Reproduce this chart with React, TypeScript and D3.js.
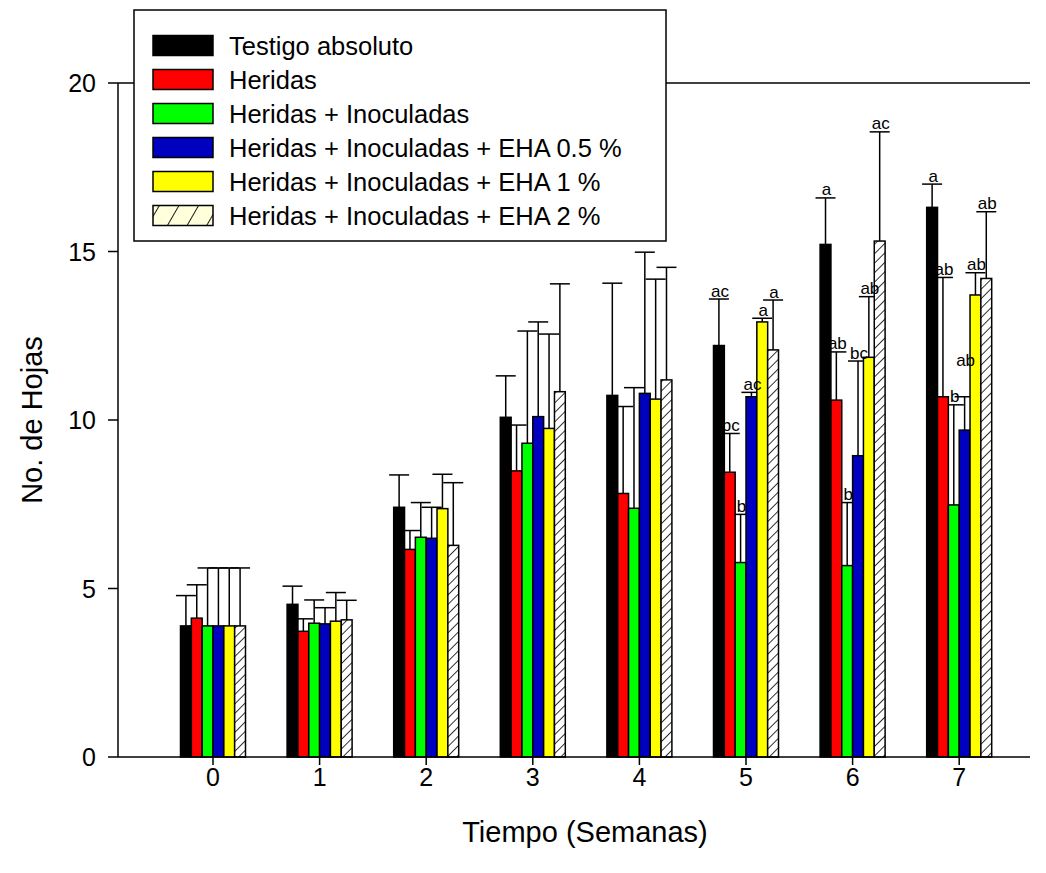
import React from 'react'
import { scaleLinear, scaleBand } from 'd3'

// weeks on the x axis
const weeks = ['0', '1', '2', '3', '4', '5', '6', '7']
const yTicks = [0, 5, 10, 15, 20]

const seriesNames = [
  'Testigo absoluto',
  'Heridas',
  'Heridas + Inoculadas',
  'Heridas + Inoculadas + EHA 0.5 %',
  'Heridas + Inoculadas + EHA 1 %',
  'Heridas + Inoculadas + EHA 2 %',
]
const seriesColors = ['#000000', '#ff0000', '#00ff00', '#0000c0', '#ffff00', 'url(#hatch)']

// mean number of leaves
const testigo = [3.89, 4.53, 7.41, 10.08, 10.73, 12.21, 15.21, 16.31]
const heridas = [4.12, 3.73, 6.16, 8.49, 7.82, 8.45, 10.59, 10.69]
const herInoc = [3.89, 3.97, 6.52, 9.31, 7.38, 5.77, 5.68, 7.48]
const eha05 = [3.89, 3.95, 6.49, 10.1, 10.79, 10.69, 8.94, 9.7]
const eha1 = [3.89, 4.03, 7.37, 9.75, 10.62, 12.91, 11.86, 13.71]
const eha2 = [3.89, 4.07, 6.28, 10.84, 11.19, 12.08, 15.31, 14.2]

// standard errors (upper bars only)
const testigoErr = [0.9, 0.54, 0.96, 1.23, 3.33, 1.38, 1.38, 0.69]
const heridasErr = [0.99, 0.37, 0.56, 1.36, 2.58, 1.15, 1.43, 3.54]
const herInocErr = [1.72, 0.69, 1.03, 3.33, 3.58, 1.43, 1.87, 2.97]
const eha05Err = [1.72, 0.48, 0.92, 2.81, 4.19, 0.13, 2.81, 0.99]
const eha1Err = [1.72, 0.85, 1.02, 2.8, 3.56, 0.11, 1.8, 0.66]
const eha2Err = [1.72, 0.58, 1.86, 3.2, 3.34, 1.48, 3.24, 1.98]

const means = [testigo, heridas, herInoc, eha05, eha1, eha2]
const errs = [testigoErr, heridasErr, herInocErr, eha05Err, eha1Err, eha2Err]

// significance letters: [week index, series index, text, extra raise in units]
const letters: [number, number, string, number][] = [
  [5, 0, 'ac', 0], [5, 1, 'bc', 0], [5, 2, 'b', 0], [5, 3, 'ac', 0], [5, 4, 'a', 0], [5, 5, 'a', 0],
  [6, 0, 'a', 0], [6, 1, 'ab', 0], [6, 2, 'b', 0], [6, 3, 'bc', 0], [6, 4, 'ab', 0], [6, 5, 'ac', 0],
  [7, 0, 'a', 0], [7, 1, 'ab', 0], [7, 2, 'b', 0], [7, 3, 'ab', 0.85], [7, 4, 'ab', 0], [7, 5, 'ab', 0],
]

const font = 'Arial, "Liberation Sans", sans-serif'

export default function App() {
  const width = 1046
  const height = 873
  const left = 118
  const right = 1030
  const top = 83
  const bottom = 757

  const y = scaleLinear().domain([0, 20]).range([bottom, top])
  const step = 106.6
  const x0 = scaleBand<string>()
    .domain(weeks)
    .range([213 - step / 2, 213 - step / 2 + step * weeks.length])
  const groupW = 65
  const x1 = scaleBand<number>()
    .domain(seriesNames.map((_, i) => i))
    .range([(x0.bandwidth() - groupW) / 2, (x0.bandwidth() + groupW) / 2])
  const bw = x1.bandwidth()
  const cap = 10

  return (
    <svg width={width} height={height} style={{ position: 'absolute', left: 0, top: 0 }} fontFamily={font}>
      <defs>
        <pattern id="hatch" patternUnits="userSpaceOnUse" width="6.7" height="6.7" patternTransform="rotate(45)">
          <rect width="6.7" height="6.7" fill="#fff" />
          <line x1="0" y1="0" x2="0" y2="6.7" stroke="#000" strokeWidth="1.6" />
        </pattern>
        <pattern id="hatchLegend" patternUnits="userSpaceOnUse" width="17" height="17" patternTransform="rotate(30)">
          <rect width="17" height="17" fill="#ffffdc" />
          <line x1="0" y1="0" x2="0" y2="17" stroke="#000" strokeWidth="1.8" />
        </pattern>
      </defs>
      <rect width={width} height={height} fill="#fff" />

      {/* error bars behind the bars */}
      {means.map((vals, s) =>
        vals.map((v, g) => {
          const cx = (x0(weeks[g]) as number) + (x1(s) as number) + bw / 2
          const yt = y(v + errs[s][g])
          return (
            <g key={`e${s}-${g}`} stroke="#000" strokeWidth={1.5}>
              <line x1={cx} x2={cx} y1={y(v)} y2={yt} />
              <line x1={cx - cap} x2={cx + cap} y1={yt} y2={yt} />
            </g>
          )
        })
      )}

      {means.map((vals, s) =>
        vals.map((v, g) => (
          <rect
            key={`b${s}-${g}`}
            x={(x0(weeks[g]) as number) + (x1(s) as number)}
            y={y(v)}
            width={bw}
            height={y(0) - y(v)}
            fill={seriesColors[s]}
            stroke="#000"
            strokeWidth={1.5}
          />
        ))
      )}

      {letters.map(([g, s, t, raise], i) => {
        const cx = (x0(weeks[g]) as number) + (x1(s) as number) + bw / 2
        return (
          <text key={`l${i}`} x={cx + 1} y={y(means[s][g] + errs[s][g] + raise) - 2.5} fontSize={17} textAnchor="middle">
            {t}
          </text>
        )
      })}

      {/* axes */}
      <g stroke="#000" strokeWidth={1.5}>
        <line x1={left} x2={left} y1={top} y2={bottom} />
        <line x1={left} x2={right} y1={bottom} y2={bottom} />
        <line x1={left} x2={right} y1={top} y2={top} />
        {yTicks.map((t) => (
          <line key={t} x1={left - 10} x2={left} y1={y(t)} y2={y(t)} />
        ))}
        {weeks.map((w) => {
          const cx = (x0(w) as number) + x0.bandwidth() / 2
          return <line key={w} x1={cx} x2={cx} y1={bottom} y2={bottom + 8} />
        })}
      </g>
      {yTicks.map((t) => (
        <text key={t} x={96} y={y(t) + 9} fontSize={25} textAnchor="end">
          {t}
        </text>
      ))}
      {weeks.map((w) => (
        <text key={w} x={(x0(w) as number) + x0.bandwidth() / 2} y={786} fontSize={25} textAnchor="middle">
          {w}
        </text>
      ))}
      <text x={585} y={842} fontSize={29} textAnchor="middle">
        Tiempo (Semanas)
      </text>
      <text transform={`translate(42,${(top + bottom) / 2}) rotate(-90)`} fontSize={29} textAnchor="middle">
        No. de Hojas
      </text>

      {/* legend */}
      <g>
        <rect x={134} y={10} width={532} height={231} fill="#fff" stroke="#000" strokeWidth={1.5} />
        {seriesNames.map((n, i) => (
          <g key={n} transform={`translate(153,${45.5 + i * 34})`}>
            <rect
              x={0}
              y={-10}
              width={60}
              height={20}
              fill={i === 5 ? 'url(#hatchLegend)' : seriesColors[i]}
              stroke="#000"
              strokeWidth={1.5}
            />
            <text x={76} y={9} fontSize={25.5}>
              {n}
            </text>
          </g>
        ))}
      </g>
    </svg>
  )
}
